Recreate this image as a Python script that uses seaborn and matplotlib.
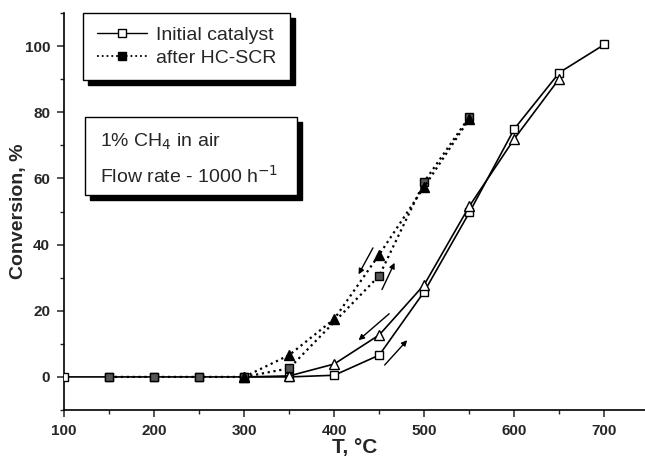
import matplotlib
matplotlib.use("Agg")
import matplotlib.pyplot as plt
from matplotlib.lines import Line2D
from matplotlib.patches import Rectangle
import seaborn as sns
import numpy as np

# ---- data ----
T_init_heat = [100, 150, 200, 250, 300, 350, 400, 450, 500, 550, 600, 650, 700]
X_init_heat = [0, 0, 0, 0, 0, 0, 0.5, 6.6, 25.8, 49.7, 75, 92, 100.5]

T_init_cool = [300, 350, 400, 450, 500, 550, 600, 650]
X_init_cool = [0, 0.3, 3.9, 12.7, 27.9, 51.6, 72, 90.2]

T_scr_heat = [150, 200, 250, 300, 350, 450, 500, 550]
X_scr_heat = [0, 0, 0, 0, 2.6, 30.6, 59, 78.6]

T_scr_cool = [300, 350, 400, 450, 500, 550]
X_scr_cool = [0, 6.6, 17.5, 37, 57.5, 78]

legend_labels = ["Initial catalyst", "after HC-SCR"]
box_lines = ["1% CH$_4$ in air", "Flow rate - 1000 h$^{-1}$"]

# ---- style ----
sns.set_style("ticks")
plt.rcParams["font.family"] = ["Liberation Sans", "DejaVu Sans"]

fig = plt.figure(figsize=(6.45, 4.63), dpi=100)
ax = fig.add_axes([64 / 645, 53 / 463, 1 - 64 / 645, 397 / 463])

lw = 1.2
sns.lineplot(x=T_init_heat, y=X_init_heat, ax=ax, color="black", lw=lw,
             marker="s", markersize=6, markerfacecolor="white",
             markeredgecolor="black", markeredgewidth=1.0, sort=False, zorder=3)
sns.lineplot(x=T_init_cool, y=X_init_cool, ax=ax, color="black", lw=lw,
             marker="^", markersize=6.5, markerfacecolor="white",
             markeredgecolor="black", markeredgewidth=1.0, sort=False, zorder=3)
sns.lineplot(x=T_scr_heat, y=X_scr_heat, ax=ax, color="black", lw=1.6,
             linestyle=":", marker="s", markersize=6, markerfacecolor="#555555",
             markeredgecolor="black", markeredgewidth=1.0, sort=False, zorder=4)
sns.lineplot(x=T_scr_cool, y=X_scr_cool, ax=ax, color="black", lw=1.6,
             linestyle=":", marker="^", markersize=6.5, markerfacecolor="black",
             markeredgecolor="black", markeredgewidth=1.0, sort=False, zorder=4)

# direction arrows
arrows = [((443, 39), (427, 31)),
          ((453, 26.4), (467, 34.5)),
          ((461, 19.1), (427, 11.1)),
          ((456, 3.6), (481, 11.1))]
for start, end in arrows:
    ax.annotate("", xy=end, xytext=start,
                arrowprops=dict(arrowstyle="-|>", color="black", lw=1.0,
                                mutation_scale=8, shrinkA=0, shrinkB=0))

# axes
ax.set_xlim(100, 745)
ax.set_ylim(-10, 110)
ax.set_xticks([100, 200, 300, 400, 500, 600, 700])
ax.set_xticks([150, 250, 350, 450, 550, 650], minor=True)
ax.set_yticks([0, 20, 40, 60, 80, 100])
ax.set_yticks([-10, 10, 30, 50, 70, 90, 110], minor=True)
ax.tick_params(which="major", length=5, width=1.1, pad=5, labelsize=11,
               direction="out")
ax.tick_params(which="minor", length=3, width=1.0, direction="out")
for lab in ax.get_xticklabels() + ax.get_yticklabels():
    lab.set_fontweight("bold")
sns.despine(ax=ax)
for s in ["left", "bottom"]:
    ax.spines[s].set_linewidth(1.2)
    ax.spines[s].set_color("black")

ax.set_xlabel("T, °C", fontsize=15, fontweight="bold", labelpad=0)
ax.set_ylabel("Conversion, %", fontsize=14, fontweight="bold", labelpad=-1.5)

# legend
handles = [Line2D([], [], color="black", lw=1.0, marker="s", markersize=6,
                  markerfacecolor="white", markeredgecolor="black"),
           Line2D([], [], color="black", lw=1.3, linestyle=":", marker="s",
                  markersize=6, markerfacecolor="black", markeredgecolor="black")]
leg = ax.legend(handles, legend_labels, loc="upper left",
                bbox_to_anchor=(19 / 581, 1.0), borderaxespad=0,
                fontsize=14, handlelength=2.6, handletextpad=0.45,
                borderpad=0.7, labelspacing=0.25, fancybox=False,
                framealpha=1, edgecolor="black",
                shadow={"ox": 3.6, "oy": -3.6, "color": "black", "alpha": 1})
leg.get_frame().set_linewidth(1.0)

# condition box with shadow
x0, x1 = 21 / 581, 233 / 581
y0, y1 = (410 - 195) / 397, (410 - 117) / 397
dx, dy = 5 / 581, 5 / 397
ax.add_patch(Rectangle((x0 + dx, y0 - dy), x1 - x0, y1 - y0, transform=ax.transAxes,
                       facecolor="black", edgecolor="black", zorder=5, clip_on=False))
ax.add_patch(Rectangle((x0, y0), x1 - x0, y1 - y0, transform=ax.transAxes,
                       facecolor="white", edgecolor="black", lw=1.0, zorder=6,
                       clip_on=False))
ax.text(36 / 581, (410 - 142) / 397, box_lines[0], transform=ax.transAxes,
        fontsize=14, va="center", ha="left", zorder=7)
ax.text(36 / 581, (410 - 176) / 397, box_lines[1], transform=ax.transAxes,
        fontsize=14, va="center", ha="left", zorder=7)

fig.savefig("out.png", dpi=100)
